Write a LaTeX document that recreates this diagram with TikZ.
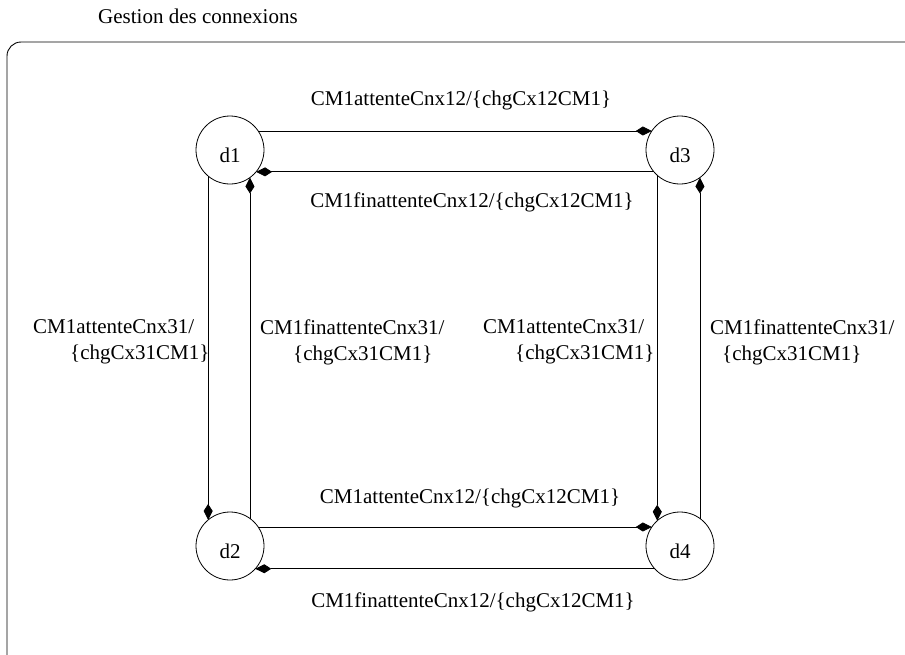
\documentclass[tikz,border=0pt]{standalone}
\usepackage{fontspec}
\setmainfont{Liberation Serif}
\usetikzlibrary{arrows.meta,positioning}
\tikzset{
  etat/.style={circle,draw=black,line width=0.8pt,minimum size=68pt,inner sep=0pt,outer sep=0pt,text height=26pt,font=\fontsize{21}{26}\selectfont},
  trans/.style={-{Kite[length=16pt,width=9pt,inset=7pt]},line width=0.8pt,black},
  etiq/.style={font=\fontsize{21}{26}\selectfont,inner sep=0pt,align=left},
  cadre/.style={draw=black,line width=0.9pt,rounded corners=14pt}
}
\begin{document}
\begin{tikzpicture}[x=1pt,y=-1pt]
  \useasboundingbox (0,0) rectangle (905,654);
  \clip (0,0) rectangle (905,654);
  \node[etiq,anchor=west] (titre) at (98,16) {Gestion des connexions};
  \draw[cadre] (7,42) rectangle (940,690);
  % etats
  \node[etat] (d1) at (230,150) {d1};
  \node[etat] (d3) at (680,150) {d3};
  \node[etat] (d2) at (230,546) {d2};
  \node[etat] (d4) at (680,546) {d4};
  % transitions horizontales
  \draw[trans] (d1.34) -- (d3.146);
  \draw[trans] (d3.-140) -- (d1.-40);
  \draw[trans] (d2.34) -- (d4.146);
  \draw[trans] (d4.-138) -- (d2.-42);
  % transitions verticales
  \draw[trans] (d1.-130) -- (d2.130);
  \draw[trans] (d2.54) -- (d1.-54);
  \draw[trans] (d3.-132) -- (d4.132);
  \draw[trans] (d4.54) -- (d3.-54);
  % etiquettes
  \node[etiq] (e13) at (461,100) {CM1attenteCnx12/\{chgCx12CM1\}};
  \node[etiq] (e31) at (472,202) {CM1finattenteCnx12/\{chgCx12CM1\}};
  \node[etiq] (e24) at (470,498) {CM1attenteCnx12/\{chgCx12CM1\}};
  \node[etiq] (e42) at (473,602) {CM1finattenteCnx12/\{chgCx12CM1\}};
  \node[etiq,anchor=west] (e12) at (33,342) {CM1attenteCnx31/\\\hspace*{37pt}\{chgCx31CM1\}};
  \node[etiq,anchor=west] (e21) at (260,342) {CM1finattenteCnx31/\\\hspace*{33pt}\{chgCx31CM1\}};
  \node[etiq,anchor=west] (e34) at (483,342) {CM1attenteCnx31/\\\hspace*{32pt}\{chgCx31CM1\}};
  \node[etiq,anchor=west] (e43) at (710,342) {CM1finattenteCnx31/\\\hspace*{12pt}\{chgCx31CM1\}};
\end{tikzpicture}
\end{document}
